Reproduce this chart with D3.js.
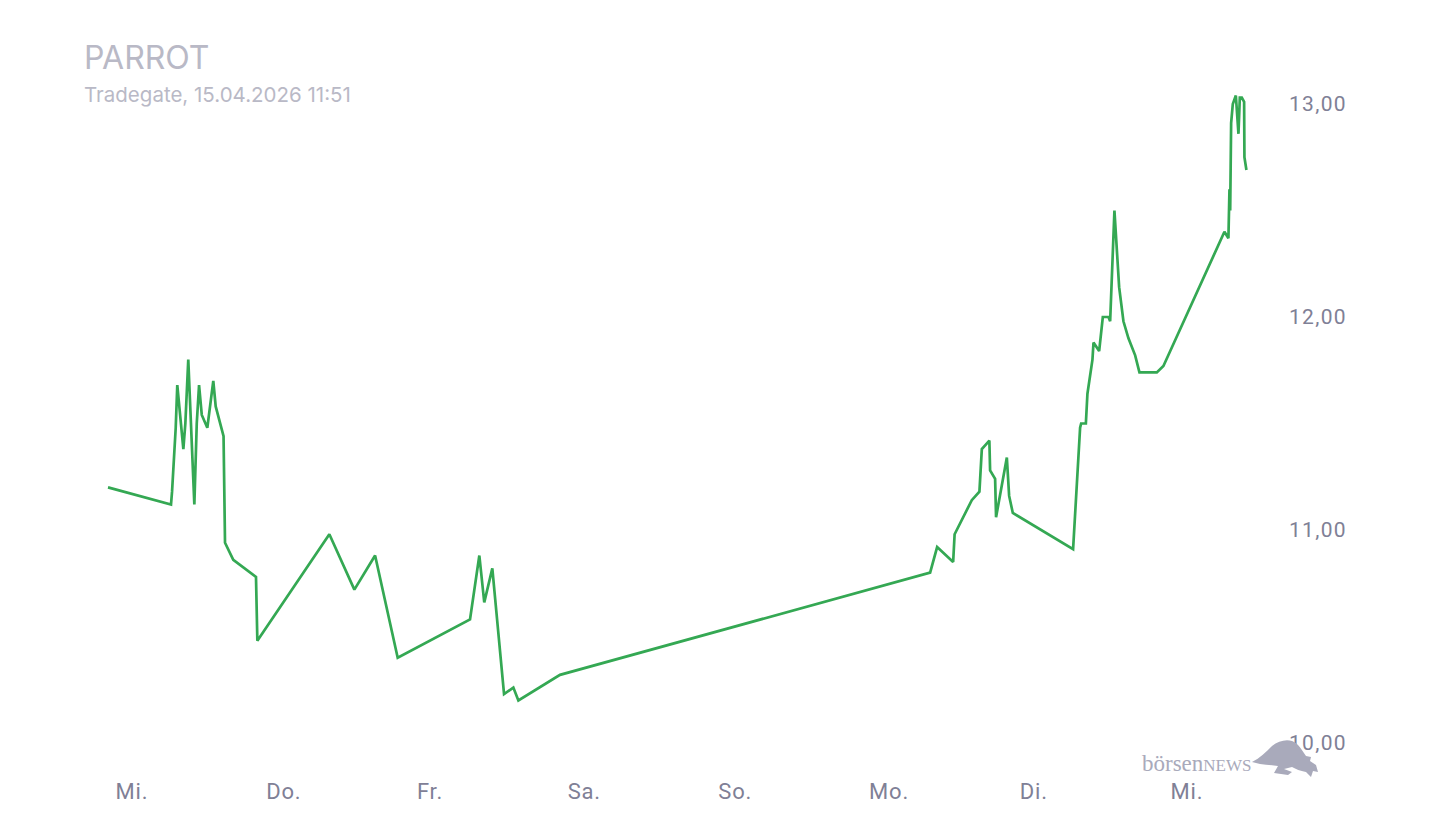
<!DOCTYPE html>
<html>
<head>
<meta charset="utf-8">
<script src="https://cdn.jsdelivr.net/npm/d3@7"></script>
<style>
  html, body { margin: 0; padding: 0; background: #fff; }
  svg { display: block; }
</style>
</head>
<body>
<svg id="chart" width="1440" height="840"></svg>
<script>
// price series (Tradegate, EUR)
var times = [
    "2026-04-07 22:34",
    "2026-04-08 08:36", "2026-04-08 08:46", "2026-04-08 09:21", "2026-04-08 09:36", "2026-04-08 10:34",
    "2026-04-08 10:53", "2026-04-08 11:21", "2026-04-08 12:19", "2026-04-08 12:42", "2026-04-08 13:04",
    "2026-04-08 13:30", "2026-04-08 14:23", "2026-04-08 15:20", "2026-04-08 15:43", "2026-04-08 16:58",
    "2026-04-08 17:12", "2026-04-08 18:31", "2026-04-08 22:08", "2026-04-08 22:21",
    "2026-04-09 09:49", "2026-04-09 13:48", "2026-04-09 17:06", "2026-04-09 20:42",
    "2026-04-10 08:13", "2026-04-10 09:42", "2026-04-10 10:29", "2026-04-10 11:46", "2026-04-10 13:38",
    "2026-04-10 15:07", "2026-04-10 15:55", "2026-04-10 22:33",
    "2026-04-13 09:29", "2026-04-13 10:36", "2026-04-13 13:09", "2026-04-13 13:23", "2026-04-13 16:07",
    "2026-04-13 17:20", "2026-04-13 17:43", "2026-04-13 18:55", "2026-04-13 19:02", "2026-04-13 19:50",
    "2026-04-13 19:59", "2026-04-13 21:42", "2026-04-13 22:04", "2026-04-13 22:39",
    "2026-04-14 08:15", "2026-04-14 09:22", "2026-04-14 09:32", "2026-04-14 10:17", "2026-04-14 10:32",
    "2026-04-14 11:20", "2026-04-14 11:30", "2026-04-14 12:24", "2026-04-14 12:59", "2026-04-14 13:53",
    "2026-04-14 14:09", "2026-04-14 14:50", "2026-04-14 15:35", "2026-04-14 16:16", "2026-04-14 17:04",
    "2026-04-14 18:08", "2026-04-14 18:49", "2026-04-14 21:35", "2026-04-14 22:38",
    "2026-04-15 08:21", "2026-04-15 08:59", "2026-04-15 09:09", "2026-04-15 09:16", "2026-04-15 09:25",
    "2026-04-15 09:41", "2026-04-15 10:10", "2026-04-15 10:35", "2026-04-15 10:48", "2026-04-15 11:07",
    "2026-04-15 11:29", "2026-04-15 11:32", "2026-04-15 11:51"
];

var prices = [
    11.20,
    11.12, 11.18, 11.48, 11.68, 11.38,
    11.50, 11.80, 11.12, 11.50, 11.68,
    11.54, 11.48, 11.70, 11.58, 11.44,
    10.94, 10.86, 10.78, 10.48,
    10.98, 10.72, 10.88, 10.40,
    10.58, 10.88, 10.66, 10.82, 10.23,
    10.26, 10.20, 10.32,
    10.80, 10.92, 10.85, 10.98, 11.14,
    11.18, 11.38, 11.42, 11.28, 11.24,
    11.06, 11.34, 11.16, 11.08,
    10.91, 11.48, 11.50, 11.50, 11.64,
    11.80, 11.88, 11.84, 12.00, 12.00,
    11.98, 12.50, 12.14, 11.98, 11.90,
    11.82, 11.74, 11.74, 11.77,
    12.40, 12.37, 12.60, 12.50, 12.91,
    13.00, 13.04, 12.86, 13.03, 13.03,
    13.01, 12.75, 12.69
];

var dayLabels = ["Mi.", "Do.", "Fr.", "Sa.", "So.", "Mo.", "Di.", "Mi."];
var dayTicks = ["2026-04-08", "2026-04-09", "2026-04-10", "2026-04-11",
                "2026-04-12", "2026-04-13", "2026-04-14", "2026-04-15"];
var priceTicks = [10, 11, 12, 13];

var titleText = "PARROT";
var subtitleText = "Tradegate, 15.04.2026 11:51";

var parseTime = d3.timeParse("%Y-%m-%d %H:%M"),
    parseDay = d3.timeParse("%Y-%m-%d"),
    fmt = d3.formatLocale({ decimal: ",", thousands: ".", grouping: [3], currency: ["", " €"] }).format(",.2f");

var data = times.map(function (t, i) {
    return { t: parseTime(t), v: prices[i] };
});

var svg = d3.select("#chart");

var x = d3.scaleTime()
    .domain([parseDay("2026-04-08"), parseDay("2026-04-15")])
    .range([117, 1172]);

var y = d3.scaleLinear()
    .domain([10, 13])
    .range([743, 104]);

// title
svg.append("text")
    .attr("x", 84)
    .attr("y", 69)
    .style("font-family", "Inter, sans-serif")
    .style("font-size", "32px")
    .style("fill", "#b9b9c6")
    .text(titleText);

svg.append("text")
    .attr("x", 84)
    .attr("y", 102)
    .style("font-family", "Inter, sans-serif")
    .style("font-size", "20.5px")
    .style("fill", "#b9b9c6")
    .text(subtitleText);

// y axis on the right, labels only
var yAxis = d3.axisRight(y)
    .tickValues(priceTicks)
    .tickSize(0)
    .tickPadding(0)
    .tickFormat(function (d) { return fmt(d); });

var gy = svg.append("g")
    .attr("transform", "translate(1289,0)")
    .call(yAxis);
gy.select(".domain").remove();
gy.selectAll("text")
    .style("font-family", "Roboto, sans-serif")
    .style("font-size", "21px")
    .style("letter-spacing", "1.3px")
    .style("fill", "#7f8096");

// x axis, day names
var xAxis = d3.axisBottom(x)
    .tickValues(dayTicks.map(parseDay))
    .tickSize(0)
    .tickPadding(0)
    .tickFormat(function (d, i) { return dayLabels[i]; });

var gx = svg.append("g")
    .attr("transform", "translate(0,783)")
    .call(xAxis);
gx.select(".domain").remove();
gx.selectAll("text")
    .attr("text-anchor", "start")
    .attr("dx", -2)
    .attr("dy", "0.71em")
    .style("font-family", "Roboto, sans-serif")
    .style("font-size", "22px")
    .style("letter-spacing", "0.8px")
    .style("fill", "#7f8096");

// price line
var line = d3.line()
    .x(function (d) { return x(d.t); })
    .y(function (d) { return y(d.v); });

svg.append("path")
    .datum(data)
    .attr("d", line)
    .attr("fill", "none")
    .attr("stroke", "#34a853")
    .attr("stroke-width", 2.7)
    .attr("stroke-linejoin", "miter")
    .attr("stroke-miterlimit", 2);

// logo
var logo = svg.append("g").attr("class", "logo");

logo.append("text")
    .attr("x", 1142)
    .attr("y", 771)
    .style("font-family", "'Liberation Serif', 'DejaVu Serif', serif")
    .style("font-size", "23px")
    .style("fill", "#a9aabb")
    .html("börsen<tspan style='font-size:17px'>NEWS</tspan>");

logo.append("path")
    .attr("d", "M1252,762 C1260,758 1266,752 1272,746 C1278,741 1286,739 1292,741 " +
        "C1298,743 1302,750 1306,756 L1311,757 L1310,761 L1316,765 L1318,772 L1313,771 L1311,777 " +
        "L1306,772 C1300,771 1296,769 1292,767 L1284,769 L1292,772 L1288,775 L1274,773 L1278,766 " +
        "C1272,765 1266,765 1260,764 Z")
    .attr("fill", "#a9aabb");
</script>
</body>
</html>
